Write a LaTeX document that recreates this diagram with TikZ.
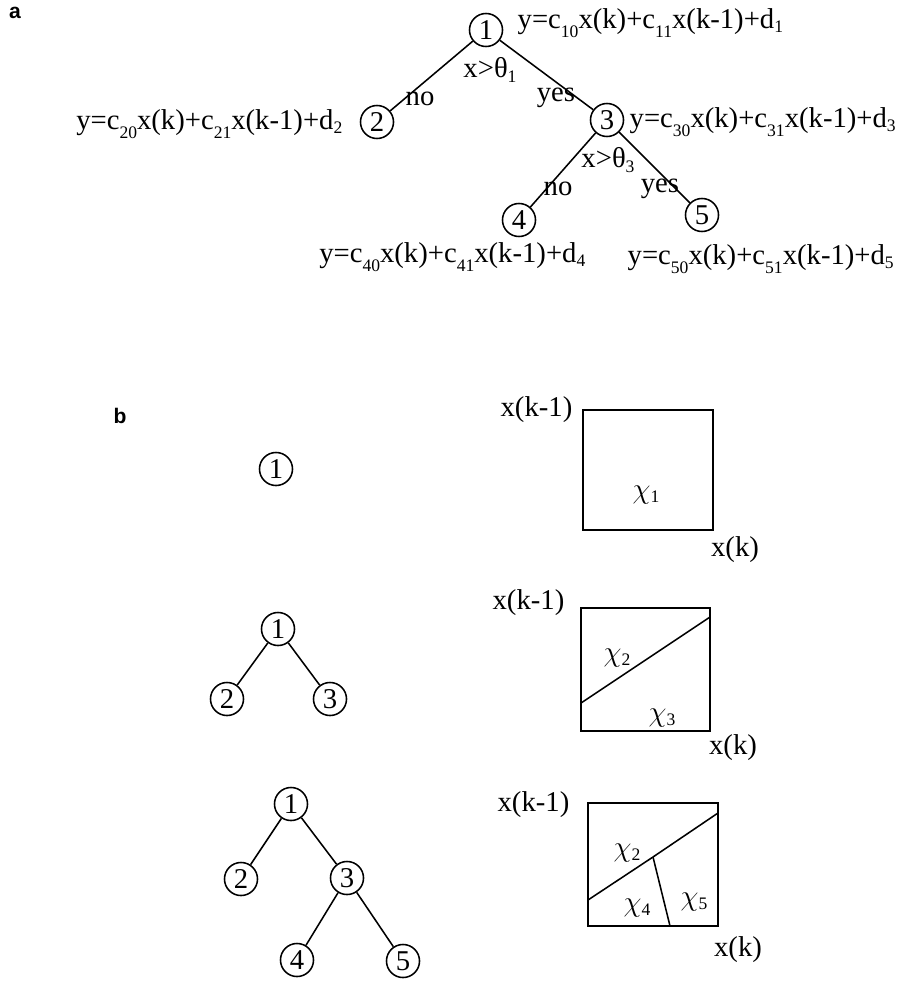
\documentclass[tikz,border=0pt]{standalone}
\usepackage{fontspec}
\setmainfont{Liberation Serif}
\newfontfamily\panelfont{Liberation Sans}
\usepackage{tikz}
\usetikzlibrary{calc}
% subscripts: \sbs slightly lowered, \sbl lowered further (as after c)
\newcommand{\sbs}[1]{\raisebox{-0.15em}{\fontsize{12.5}{12.5}\selectfont #1}}
\newcommand{\sbl}[1]{\raisebox{-0.33em}{\fontsize{12.5}{12.5}\selectfont #1}}
\newcommand{\eqn}[1]{y=c\sbl{#10}x(k)+c\sbl{#11}x(k-1)+d\sbs{#1}}
\newcommand{\reg}[1]{$\chi$\sbs{#1}}

\begin{document}
\begin{tikzpicture}[x=0.25mm, y=-0.25mm, font=\fontsize{20.4}{22}\selectfont,
		nd/.style={circle, draw, line width=1.1pt, inner sep=0pt, minimum size=23.5pt},
		box/.style={draw, line width=1.1pt},
		edge/.style={line width=1.1pt},
		lbl/.style={inner sep=1pt},
		panel/.style={font=\panelfont\bfseries\fontsize{15}{15}\selectfont}]
		\useasboundingbox (0,0) rectangle (902,981);
		% panel a
		\node[panel] (pa) at (15,13) {a};
		\node[nd] (a1) at (486,30) {1};
		\node[nd] (a2) at (377,122) {2};
		\node[nd] (a3) at (607,120) {3};
		\node[nd] (a4) at (519,220) {4};
		\node[nd] (a5) at (702,215) {5};
		\draw[edge] (a1) -- (a2);
		\draw[edge] (a1) -- (a3);
		\draw[edge] (a3) -- (a4);
		\draw[edge] (a3) -- (a5);
		\node[lbl] (t1) at (490,70) {x>θ\sbs{1}};
		\node[lbl] (no1) at (420,99) {no};
		\node[lbl] (yes1) at (556,98) {yes};
		\node[lbl] (t3) at (608,160) {x>θ\sbs{3}};
		\node[lbl] (no3) at (558,189) {no};
		\node[lbl] (yes3) at (660,189) {yes};
		\node[lbl, anchor=west] (e1) at (516,23) {\eqn{1}};
		\node[lbl, anchor=east] (e2) at (344,124) {\eqn{2}};
		\node[lbl, anchor=west] (e3) at (628,122) {\eqn{3}};
		\node[lbl, anchor=east] (e4) at (587,257) {\eqn{4}};
		\node[lbl, anchor=west] (e5) at (626,259) {\eqn{5}};
		% panel b
		\node[panel] (pb) at (120,416) {b};
		% one region
		\node[nd] (b1) at (276,469) {1};
		\draw[box] (583,410) rectangle (713,530);
		\node[lbl] (r1) at (646,495) {\reg{1}};
		\node[lbl, anchor=east] (xa1) at (574,410) {x(k-1)};
		\node[lbl] (xb1) at (735,550) {x(k)};
		% two regions
		\node[nd] (c1) at (278,629) {1};
		\node[nd] (c2) at (227,699) {2};
		\node[nd] (c3) at (330,699) {3};
		\draw[edge] (c1) -- (c2);
		\draw[edge] (c1) -- (c3);
		\draw[box] (581,608) rectangle (710,731);
		\draw[edge] (581,703) -- (710,617);
		\node[lbl] (r2) at (617,658) {\reg{2}};
		\node[lbl] (r3) at (662,718) {\reg{3}};
		\node[lbl, anchor=east] (xa2) at (566,603) {x(k-1)};
		\node[lbl] (xb2) at (733,748) {x(k)};
		% three regions
		\node[nd] (d1) at (291,804) {1};
		\node[nd] (d2) at (241,879) {2};
		\node[nd] (d3) at (347,878) {3};
		\node[nd] (d4) at (297,960) {4};
		\node[nd] (d5) at (403,961) {5};
		\draw[edge] (d1) -- (d2);
		\draw[edge] (d1) -- (d3);
		\draw[edge] (d3) -- (d4);
		\draw[edge] (d3) -- (d5);
		\draw[box] (588,803) rectangle (718,926);
		\coordinate (sp) at (653,857);
		\draw[edge] (588,900) -- (sp) -- (718,813);
		\draw[edge] (sp) -- (670,926);
		\node[lbl] (r4) at (627,853) {\reg{2}};
		\node[lbl] (r5) at (637,908) {\reg{4}};
		\node[lbl] (r6) at (694,902) {\reg{5}};
		\node[lbl, anchor=east] (xa3) at (571,805) {x(k-1)};
		\node[lbl] (xb3) at (738,950) {x(k)};
	\end{tikzpicture}
\end{document}
